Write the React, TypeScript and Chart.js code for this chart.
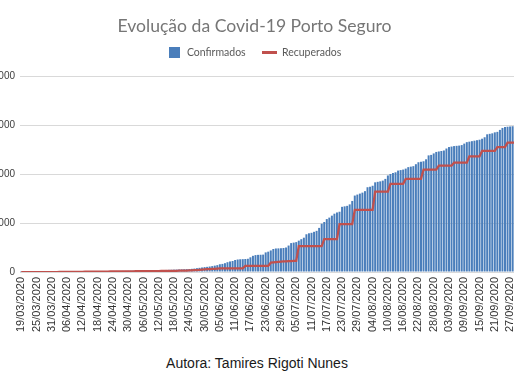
import { useEffect, useRef } from 'react';
import { Chart, registerables } from 'chart.js';

Chart.register(...registerables);

const TITLE = 'Evolução da Covid-19 Porto Seguro';
const FOOTER = 'Autora: Tamires Rigoti Nunes';
const SERIES_NAMES = ['Confirmados', 'Recuperados'];

// one category per day, 19/03/2020 .. 30/09/2020
const FIRST_DAY = { year: 2020, month: 3, day: 19 };
const DAY_COUNT = 196;
const LABEL_EVERY = 6;

const categories: string[] = [];
for (let i = 0; i < DAY_COUNT; i++) {
  const d = new Date(Date.UTC(FIRST_DAY.year, FIRST_DAY.month - 1, FIRST_DAY.day + i));
  const dd = String(d.getUTCDate()).padStart(2, '0');
  const mm = String(d.getUTCMonth() + 1).padStart(2, '0');
  categories.push(`${dd}/${mm}/${d.getUTCFullYear()}`);
}

const confirmados: number[] = [
  1, 1, 1, 2, 2, 2, 3, 3, 3, 4,
  4, 5, 5, 5, 6, 6, 7, 7, 8, 8,
  9, 9, 10, 10, 11, 11, 12, 12, 13, 14,
  14, 15, 15, 16, 17, 17, 18, 19, 20, 21,
  22, 23, 24, 25, 26, 27, 28, 29, 30, 31,
  32, 33, 34, 35, 36, 38, 40, 42, 44, 46,
  48, 50, 52, 54, 56, 58,
  60, 65, 70, 78, 85, 92,
  100, 105, 112, 120, 130, 140,
  158, 165, 180, 200, 215, 225,
  245, 255, 260, 262, 265, 270,
  300, 330, 345, 350, 352, 355,
  400, 415, 440, 470, 480, 482,
  485, 490, 500, 540, 590, 600,
  610, 640, 670, 700, 770, 790,
  800, 820, 840, 900, 985, 1020,
  1080, 1110, 1150, 1190, 1215, 1230,
  1330, 1340, 1350, 1380, 1450, 1560,
  1580, 1600, 1620, 1650, 1730, 1740,
  1760, 1830, 1840, 1850, 1865, 1900,
  1970, 2000, 2020, 2035, 2070, 2080,
  2090, 2110, 2140, 2150, 2160, 2200,
  2240, 2250, 2260, 2300, 2380, 2390,
  2420, 2450, 2460, 2470, 2480, 2520,
  2550, 2560, 2570, 2575, 2580, 2590,
  2620, 2650, 2660, 2670, 2680, 2690,
  2700, 2720, 2750, 2810, 2820, 2830,
  2850, 2860, 2900, 2940, 2960, 2965,
  2970, 2975, 2980, 2990,
];

const recuperados: number[] = [
  0, 0, 0, 0, 0, 0, 0, 0, 0, 0, 0, 0, 0, 0, 0,
  1, 1, 2, 2, 3, 3, 4, 4, 5, 5, 6, 6, 7, 7, 8,
  8, 9, 9, 10, 10, 11, 11, 12, 12, 13, 13, 14, 14, 15, 15,
  16, 16, 17, 17, 18, 18, 19, 19, 20, 20, 21, 21, 22, 22, 23,
  24, 25, 26, 27, 28, 30,
  32, 35, 38, 40, 45, 50,
  55, 58, 60, 62, 65, 70,
  72, 75, 75, 75, 75, 75,
  75, 75, 75, 75,
  123, 123, 123, 123, 123, 123, 123, 123, 123, 123,
  190, 195, 200, 205, 210, 215, 215, 220, 220, 225, 225,
  530, 530, 530, 530, 530, 530, 530, 530, 530, 530,
  670, 670, 670, 670, 670, 670,
  975, 975, 975, 975, 975, 975,
  1270, 1270, 1270, 1270, 1270, 1270, 1270, 1270,
  1640, 1640, 1640, 1640, 1640, 1640,
  1800, 1800, 1800, 1800, 1800, 1800,
  1900, 1900, 1900, 1900, 1900, 1900, 1900,
  2090, 2090, 2090, 2090, 2090, 2090,
  2170, 2170, 2170, 2170, 2170, 2170,
  2230, 2230, 2230, 2230, 2230, 2230,
  2360, 2360, 2360, 2360, 2360,
  2470, 2470, 2470, 2470, 2470, 2470,
  2550, 2550, 2550, 2550,
  2640, 2640, 2640, 2640, 2640,
];

const Y_MIN = 0;
const Y_MAX = 4000;
const Y_STEP = 1000;

const BLUE = '#4A7EBB';
const RED = '#C0504D';

export default function App() {
  const ref = useRef<HTMLCanvasElement | null>(null);

  useEffect(() => {
    const sq = document.createElement('canvas');
    sq.width = 11;
    sq.height = 11;
    const c1 = sq.getContext('2d')!;
    c1.fillStyle = BLUE;
    c1.fillRect(0, 0, 11, 11);

    const ln = document.createElement('canvas');
    ln.width = 15;
    ln.height = 3;
    const c2 = ln.getContext('2d')!;
    c2.fillStyle = RED;
    c2.fillRect(0, 0, 15, 3);

    const chart = new Chart(ref.current!, {
      type: 'bar',
      data: {
        labels: categories,
        datasets: [
          {
            type: 'bar',
            label: SERIES_NAMES[0],
            data: confirmados,
            backgroundColor: BLUE,
            borderWidth: 0,
            barPercentage: 0.78,
            categoryPercentage: 1,
            order: 1,
          },
          {
            type: 'line',
            label: SERIES_NAMES[1],
            data: recuperados,
            borderColor: RED,
            backgroundColor: RED,
            borderWidth: 2.25,
            pointRadius: 0,
            tension: 0,
            fill: false,
            order: 0,
          },
        ] as any,
      },
      options: {
        responsive: false,
        animation: false,
        layout: { padding: { left: 0, right: 5, top: 0, bottom: 0 } },
        plugins: {
          title: {
            display: true,
            text: TITLE,
            color: '#767676',
            font: { family: 'Lato', size: 17.6, weight: 'normal', lineHeight: 1 },
            padding: { top: 18, bottom: -5.1 },
          },
          subtitle: {
            display: true,
            text: '',
            position: 'top',
            weight: 500,
            font: { size: 1, lineHeight: 1 },
            padding: { top: 7, bottom: 0 },
          } as any,
          legend: {
            display: true,
            position: 'top',
            labels: {
              usePointStyle: true,
              pointStyleWidth: 14,
              boxHeight: 11,
              padding: 17,
              color: '#595959',
              font: { family: 'Lato', size: 10.5 },
              generateLabels: (ch: any) => {
                const items = Chart.defaults.plugins.legend.labels.generateLabels(ch);
                items.forEach((it: any) => {
                  it.pointStyle = it.datasetIndex === 0 ? sq : ln;
                });
                return items.sort((a: any, b: any) => a.datasetIndex - b.datasetIndex);
              },
            },
          },
          tooltip: { enabled: false },
        },
        scales: {
          x: {
            grid: { display: false, drawTicks: false },
            border: { display: false },
            ticks: {
              autoSkip: false,
              minRotation: 90,
              maxRotation: 90,
              padding: 5,
              color: '#333333',
              font: { family: '"Liberation Sans", Arial, sans-serif', size: 11 },
              callback: (_v: any, i: number) => (i % LABEL_EVERY === 0 ? categories[i] : ''),
            },
            afterFit: (s: any) => {
              s.height = 62;
              s.paddingLeft = 0;
              s.paddingRight = 0;
            },
          },
          y: {
            min: Y_MIN,
            max: Y_MAX,
            ticks: {
              stepSize: Y_STEP,
              padding: 5,
              color: '#404040',
              font: { family: '"Liberation Sans", Arial, sans-serif', size: 10 },
              callback: (v: any) => String(v),
            },
            grid: { color: '#d9d9d9', lineWidth: 1, drawTicks: false },
            border: { display: false },
            afterFit: (s: any) => {
              s.width = 30;
            },
          },
        },
      } as any,
    });
    return () => chart.destroy();
  }, []);

  return (
    <div
      style={{
        position: 'fixed',
        left: 0,
        top: 0,
        width: 514,
        height: 386,
        overflow: 'hidden',
        background: '#ffffff',
      }}
    >
      <canvas
        ref={ref}
        width={534}
        height={334}
        style={{ position: 'absolute', left: -10, top: 0, width: 534, height: 334 }}
      />
      <div
        style={{
          position: 'absolute',
          left: 0,
          top: 355,
          width: 514,
          textAlign: 'center',
          fontFamily: '"Liberation Sans", Arial, sans-serif',
          fontSize: 14,
          lineHeight: '16px',
          color: '#1a1a1a',
        }}
      >
        {FOOTER}
      </div>
    </div>
  );
}
